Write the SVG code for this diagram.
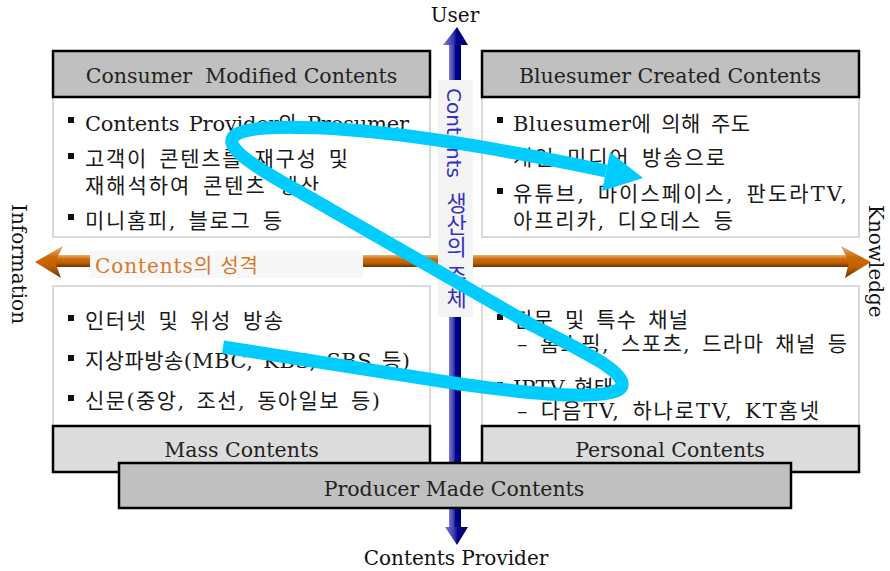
<svg xmlns="http://www.w3.org/2000/svg" width="890" height="571" viewBox="0 0 890 571">
  <defs>
    <linearGradient id="brownAxis" x1="0" y1="0" x2="0" y2="1">
      <stop offset="0" stop-color="#eab070"/>
      <stop offset="0.35" stop-color="#cc6a08"/>
      <stop offset="0.65" stop-color="#c06000"/>
      <stop offset="1" stop-color="#6e3200"/>
    </linearGradient>
    <linearGradient id="blueAxis" x1="0" y1="0" x2="1" y2="0">
      <stop offset="0" stop-color="#7878d8"/>
      <stop offset="0.4" stop-color="#3c3cb0"/>
      <stop offset="0.55" stop-color="#000088"/>
      <stop offset="1" stop-color="#000070"/>
    </linearGradient>
    <style>
      .head { stroke: #000; stroke-width: 2.5; }
      .head-dark { fill: #c0c0c0; }
      .head-light { fill: #dcdcdc; }
      .body { fill: #fff; stroke: #d9d9d9; stroke-width: 2; }
      .title { font-family: "DejaVu Serif", "Noto Sans CJK KR", serif; font-size: 20.5px; fill: #222; text-anchor: middle; }
      .txt { font-family: "DejaVu Serif", "Noto Sans CJK KR", serif; font-size: 21px; word-spacing: 3px; fill: #1a1a1a; }
      .axis-label { font-family: "DejaVu Serif", serif; font-size: 20px; fill: #111; }
      .bullet { fill: #111; }
      .flow { fill: none; stroke: #00ccff; stroke-width: 13; stroke-linecap: butt; stroke-linejoin: round; }
    </style>
  </defs>

  <!-- quadrant bodies -->
  <g id="body-consumer-modified">
    <rect class="body" x="53" y="97" width="377" height="140"/>
  </g>
  <g id="body-bluesumer-created">
    <rect class="body" x="482" y="97" width="377" height="140"/>
  </g>
  <g id="body-mass">
    <rect class="body" x="53" y="286" width="377" height="140"/>
  </g>
  <g id="body-personal">
    <rect class="body" x="482" y="286" width="377" height="140"/>
  </g>

  <!-- top headers with their bullet lists -->
  <g id="node-consumer-modified">
    <rect class="head head-dark" x="53" y="51" width="377" height="46"/>
    <text class="title" x="241.5" y="83" xml:space="preserve">Consumer  Modified Contents</text>
    <rect class="bullet" x="68" y="117" width="6" height="6"/>
    <text class="txt" x="85" y="131" textLength="324">Contents Provider와 Prosumer</text>
    <rect class="bullet" x="68" y="153" width="6" height="6"/>
    <text class="txt" x="85" y="166" textLength="263">고객이 콘텐츠를 재구성 및</text>
    <text class="txt" x="85" y="193" textLength="234">재해석하여 콘텐츠 생산</text>
    <rect class="bullet" x="68" y="214" width="6" height="6"/>
    <text class="txt" x="85" y="228" textLength="197">미니홈피, 블로그 등</text>
  </g>

  <g id="node-bluesumer-created">
    <rect class="head head-dark" x="482" y="51" width="377" height="46"/>
    <text class="title" x="670" y="83">Bluesumer Created Contents</text>
    <rect class="bullet" x="497" y="117" width="6" height="6"/>
    <text class="txt" x="513" y="131" textLength="237">Bluesumer에 의해 주도</text>
    <text class="txt" x="513" y="165" textLength="212">개인 미디어 방송으로</text>
    <rect class="bullet" x="497" y="188" width="6" height="6"/>
    <text class="txt" x="513" y="201" textLength="334">유튜브, 마이스페이스, 판도라TV,</text>
    <text class="txt" x="513" y="228" textLength="220">아프리카, 디오데스 등</text>
  </g>

  <g id="node-mass-text">
    <rect class="bullet" x="68" y="315" width="6" height="6"/>
    <text class="txt" x="85" y="328" textLength="198">인터넷 및 위성 방송</text>
    <rect class="bullet" x="68" y="355" width="6" height="6"/>
    <text class="txt" x="85" y="368" textLength="325">지상파방송(MBC, KBS, SBS 등)</text>
    <rect class="bullet" x="68" y="395" width="6" height="6"/>
    <text class="txt" x="85" y="408" textLength="295">신문(중앙, 조선, 동아일보 등)</text>
  </g>

  <g id="node-personal-text">
    <rect class="bullet" x="497" y="314" width="6" height="6"/>
    <text class="txt" x="513" y="327" textLength="175">전문 및 특수 채널</text>
    <text class="txt" x="517" y="351" textLength="330">– 홈쇼핑, 스포츠, 드라마 채널 등</text>
    <rect class="bullet" x="497" y="382" width="6" height="6"/>
    <text class="txt" x="513" y="395" textLength="100">IPTV 형태</text>
    <text class="txt" x="517" y="418" textLength="302">– 다음TV, 하나로TV, KT홈넷</text>
  </g>

  <!-- axes -->
  <g id="connectors">
    <g id="axis-horizontal">
      <rect x="52" y="255" width="800" height="12" fill="url(#brownAxis)"/>
      <polygon points="35,262 63,246 55,262 61,278" fill="url(#brownAxis)"/>
      <polygon points="871,262 841,246 849,262 845,278" fill="url(#brownAxis)"/>
    </g>
    <g id="axis-vertical">
      <rect x="449" y="44" width="12" height="484" fill="url(#blueAxis)"/>
      <polygon points="457,27 468,45 443,45" fill="url(#blueAxis)"/>
      <polygon points="457,545 468,527 445,527" fill="url(#blueAxis)"/>
    </g>
  </g>

  <!-- axis captions -->
  <g id="label-character">
    <rect x="90" y="251" width="273" height="27" fill="#f7f7f7"/>
    <text x="95" y="273" font-family="DejaVu Serif, Noto Sans CJK KR, serif" font-size="20" fill="#d5782a" textLength="163">Contents의 성격</text>
  </g>
  <g id="label-producer-subject">
    <rect x="438" y="80" width="35" height="237" fill="#f4f4f4"/>
    <text x="454" y="88" style="writing-mode: vertical-rl" font-family="DejaVu Sans, Noto Sans CJK KR, sans-serif" font-size="20" fill="#3232c0">Contents<tspan y="192" font-size="22">생산의 주체</tspan></text>
  </g>

  <!-- bottom headers -->
  <g id="node-mass">
    <rect class="head head-light" x="53" y="426" width="377" height="46"/>
    <text class="title" x="241.5" y="457">Mass Contents</text>
  </g>
  <g id="node-personal">
    <rect class="head head-light" x="482" y="426" width="377" height="46"/>
    <text class="title" x="670" y="457">Personal Contents</text>
  </g>
  <g id="node-producer-made">
    <rect class="head head-dark" x="119" y="463" width="672" height="45"/>
    <text class="title" x="454" y="496">Producer Made Contents</text>
  </g>

  <!-- axis end labels -->
  <g id="axis-ends">
    <text class="axis-label" x="455" y="22" text-anchor="middle">User</text>
    <text class="axis-label" x="456" y="565" text-anchor="middle" font-size="21">Contents Provider</text>
    <text class="axis-label" transform="translate(12,204) rotate(90)">Information</text>
    <text class="axis-label" transform="translate(869,205) rotate(90)" font-size="21">Knowledge</text>
  </g>

  <!-- sweeping flow arrow -->
  <g id="flow-arrow">
    <path class="flow" d="M223,347 L460,384 C560,398 625,400 622,383 C619,368 580,350 530,324 L300,192 C232,155 205,133 265,128 C340,124 460,140 606,171"/>
    <polygon points="610,152 643,178 602,191" fill="#00ccff"/>
  </g>
</svg>
